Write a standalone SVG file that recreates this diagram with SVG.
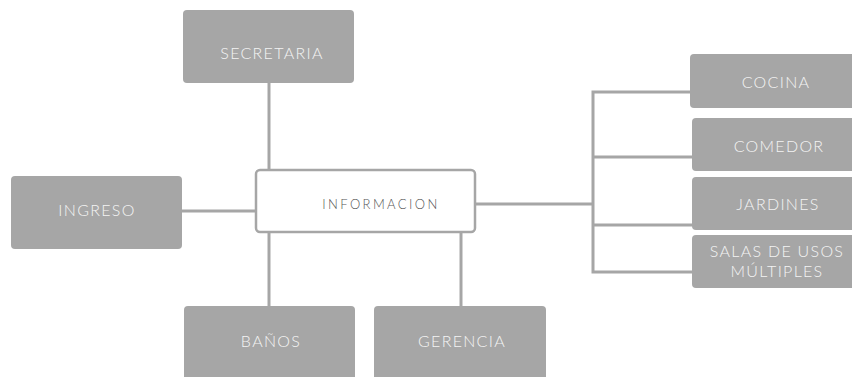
<svg xmlns="http://www.w3.org/2000/svg" width="852" height="377" viewBox="0 0 852 377">
<style>
.box{fill:#a6a6a6;}
.main{fill:#ffffff;stroke:#a6a6a6;stroke-width:2.5;}
.ln{stroke:#a6a6a6;stroke-width:3;fill:none;}
.t{font-family:"Lato","Open Sans","Liberation Sans",sans-serif;font-weight:300;font-size:16px;letter-spacing:1.3px;fill:#f4f4f4;text-anchor:middle;}
.tm{fill:#555555;font-size:13px;letter-spacing:2.4px;}
</style>
<rect width="852" height="377" fill="#ffffff"/>
<g id="connectors">
<line class="ln" x1="269" y1="83" x2="269" y2="170"/>
<line class="ln" x1="182" y1="211" x2="256" y2="211"/>
<line class="ln" x1="269" y1="232" x2="269" y2="306"/>
<line class="ln" x1="461" y1="232" x2="461" y2="306"/>
<line class="ln" x1="475" y1="204" x2="594" y2="204"/>
<polyline class="ln" points="690,92 593,92 593,272 692,272"/>
<line class="ln" x1="593" y1="157" x2="692" y2="157"/>
<line class="ln" x1="593" y1="225" x2="692" y2="225"/>
</g>
<g id="secretaria"><rect class="box" x="183" y="10" width="171" height="73" rx="4"/><text class="t" x="272" y="59">SECRETARIA</text></g>
<g id="ingreso"><rect class="box" x="11" y="176" width="171" height="73" rx="4"/><text class="t" x="97" y="216">INGRESO</text></g>
<g id="informacion"><rect class="main" x="256" y="170" width="219" height="62" rx="4"/><text class="t tm" x="381" y="209">INFORMACION</text></g>
<g id="banos"><rect class="box" x="184" y="306" width="171" height="80" rx="4"/><text class="t" x="271" y="347">BAÑOS</text></g>
<g id="gerencia"><rect class="box" x="374" y="306" width="172" height="80" rx="4"/><text class="t" x="462" y="347">GERENCIA</text></g>
<g id="cocina"><rect class="box" x="690" y="54" width="180" height="54" rx="4"/><text class="t" x="776" y="88">COCINA</text></g>
<g id="comedor"><rect class="box" x="692" y="118" width="178" height="53" rx="4"/><text class="t" x="779" y="152">COMEDOR</text></g>
<g id="jardines"><rect class="box" x="692" y="177" width="178" height="53" rx="4"/><text class="t" x="778" y="210">JARDINES</text></g>
<g id="salas"><rect class="box" x="692" y="235" width="178" height="53" rx="4"/><text class="t" x="777" y="257">SALAS DE USOS</text><text class="t" x="777" y="277">MÚLTIPLES</text></g>
</svg>
